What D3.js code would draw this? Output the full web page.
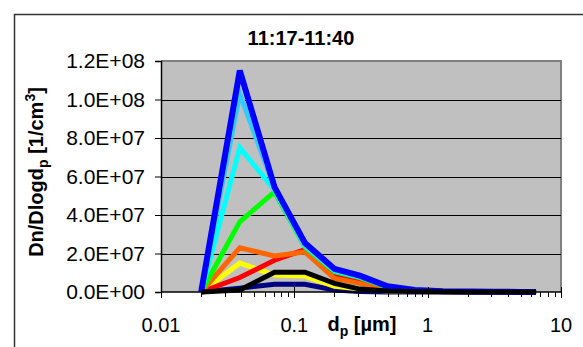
<!DOCTYPE html>
<html>
<head>
<meta charset="utf-8">
<script src="https://cdn.jsdelivr.net/npm/d3@7"></script>
<style>
	body { margin: 0; background: #fff; }
	svg { display: block; font-family: Arial, 'Liberation Sans', sans-serif; }
</style>
</head>
<body>
<svg id="viz"></svg>
<script>
// particle diameters [um]
var diameters = [ 0.02, 0.039, 0.071, 0.12, 0.2, 0.31, 0.5, 0.8, 1.3, 2, 3.2, 5, 6.5 ];

// Dn/Dlogdp in units of 1e6 / cm3, one array per scan
var navy   = [ 0, 2, 4, 4, 1, 0.2, 0, 0, 0, 0, 0, 0, 0 ];
var yellow = [ 0, 15, 8.8, 8.3, 3, 1.5, 0.5, 0.2, 0.1, 0, 0, 0, 0 ];
var red    = [ 0, 7.5, 16.5, 22, 8, 5.5, 1.5, 0.6, 0.2, 0.1, 0, 0, 0 ];
var orange = [ 0, 23, 18.7, 20.8, 7, 4.5, 1, 0.5, 0.2, 0.1, 0, 0, 0 ];
var green  = [ 0, 36.5, 52, 23.5, 10.5, 7.5, 2.5, 0.8, 0.3, 0.1, 0.1, 0, 0 ];
var cyan   = [ 0, 75, 53, 24, 11, 7.8, 2.7, 0.9, 0.3, 0.2, 0.1, 0, 0 ];
var sky    = [ 0, 103, 54, 24.5, 11.5, 8, 2.8, 0.9, 0.3, 0.2, 0.1, 0.05, 0 ];
var blue   = [ 0, 115, 54.5, 25.5, 12, 8.5, 3, 1, 0.4, 0.2, 0.1, 0.05, 0 ];
var black  = [ 0, 1, 10.3, 10.3, 4.5, 1.5, 0.5, 0.2, 0.1, 0, 0, 0, 0 ];

var yTicks = [ 0, 2e7, 4e7, 6e7, 8e7, 1e8, 1.2e8 ];
var yTickLabels = [ '0.0E+00', '2.0E+07', '4.0E+07', '6.0E+07', '8.0E+07', '1.0E+08', '1.2E+08' ];
var xTicks = [ 0.01, 0.1, 1, 10 ];
var xTickLabels = [ '0.01', '0.1', '1', '10' ];

var series = [
	{ values: navy, color: '#000080', width: 5 },
	{ values: yellow, color: '#FFFF00', width: 5 },
	{ values: red, color: '#FF0000', width: 5 },
	{ values: orange, color: '#FF6600', width: 5 },
	{ values: green, color: '#00FF00', width: 5 },
	{ values: cyan, color: '#00FFFF', width: 5 },
	{ values: sky, color: '#33CCFF', width: 5 },
	{ values: blue, color: '#0000FF', width: 6 },
	{ values: black, color: '#000000', width: 5 }
];

var W = 583, H = 347;
var plotLeft = 161, plotRight = 561, plotTop = 61, plotBottom = 292;

var svg = d3.select( '#viz' ).attr( 'width', W ).attr( 'height', H );

var x = d3.scaleLog().domain( [ 0.01, 10 ] ).range( [ plotLeft, plotRight ] );
var y = d3.scaleLinear().domain( [ 0, 1.2e8 ] ).range( [ plotBottom, plotTop ] );

// outer frame
svg.append( 'path' )
	.attr( 'd', 'M14.5,' + H + 'V14.5H' + W )
	.attr( 'fill', 'none' )
	.attr( 'stroke', '#333' )
	.attr( 'stroke-width', 1.5 );

// plot area
svg.append( 'rect' )
	.attr( 'x', plotLeft ).attr( 'y', plotTop )
	.attr( 'width', plotRight - plotLeft ).attr( 'height', plotBottom - plotTop )
	.attr( 'fill', '#C0C0C0' );
svg.append( 'path' )
	.attr( 'd', 'M' + plotLeft + ',' + plotTop + 'H' + plotRight + 'V' + plotBottom )
	.attr( 'fill', 'none' )
	.attr( 'stroke', '#808080' )
	.attr( 'stroke-width', 2 );

// gridlines
svg.append( 'g' ).selectAll( 'line' )
	.data( yTicks.slice( 1, -1 ) )
	.enter()
	.append( 'line' )
	.attr( 'x1', plotLeft ).attr( 'x2', plotRight )
	.attr( 'y1', function ( d ) { return Math.round( y( d ) ) + 0.5; } )
	.attr( 'y2', function ( d ) { return Math.round( y( d ) ) + 0.5; } )
	.attr( 'stroke', '#000' );

// series
var line = d3.line()
	.x( function ( d, i ) { return x( diameters[i] ); } )
	.y( function ( d ) { return y( d * 1e6 ); } );

svg.append( 'g' ).selectAll( 'path' )
	.data( series )
	.enter()
	.append( 'path' )
	.attr( 'd', function ( d ) { return line( d.values ); } )
	.attr( 'fill', 'none' )
	.attr( 'stroke', function ( d ) { return d.color; } )
	.attr( 'stroke-width', function ( d ) { return d.width; } )
	.attr( 'stroke-linejoin', 'miter' );

// y axis
var yAxis = d3.axisLeft( y )
	.tickValues( yTicks )
	.tickSize( 6 )
	.tickPadding( 10 )
	.tickFormat( function ( d, i ) { return yTickLabels[i]; } );
var gy = svg.append( 'g' ).attr( 'transform', 'translate(' + plotLeft + ',0)' ).call( yAxis );
gy.select( '.domain' ).attr( 'stroke', '#000' ).attr( 'stroke-width', 1.5 );
gy.selectAll( 'text' ).attr( 'font-size', 21 ).attr( 'fill', '#000' ).attr( 'font-family', 'Arial, Liberation Sans, sans-serif' );

// x axis: major and minor ticks
var minor = [];
[ 0.01, 0.1, 1 ].forEach( function ( dec ) {
	for ( var k = 2; k <= 9; k++ ) minor.push( dec * k );
} );
var gx = svg.append( 'g' ).attr( 'transform', 'translate(0,' + plotBottom + ')' );
gx.append( 'line' )
	.attr( 'x1', plotLeft ).attr( 'x2', plotRight )
	.attr( 'stroke', '#000' ).attr( 'stroke-width', 1.5 );
gx.selectAll( 'line.minor' )
	.data( minor )
	.enter()
	.append( 'line' )
	.classed( 'minor', true )
	.attr( 'x1', function ( d ) { return Math.round( x( d ) ) + 0.5; } )
	.attr( 'x2', function ( d ) { return Math.round( x( d ) ) + 0.5; } )
	.attr( 'y1', 0 ).attr( 'y2', 5 )
	.attr( 'stroke', '#000' );
gx.selectAll( 'line.major' )
	.data( xTicks )
	.enter()
	.append( 'line' )
	.classed( 'major', true )
	.attr( 'x1', function ( d ) { return Math.round( x( d ) ) + 0.5; } )
	.attr( 'x2', function ( d ) { return Math.round( x( d ) ) + 0.5; } )
	.attr( 'y1', -5 ).attr( 'y2', 6 )
	.attr( 'stroke', '#000' );
gx.selectAll( 'text' )
	.data( xTicks )
	.enter()
	.append( 'text' )
	.attr( 'x', function ( d ) { return x( d ); } )
	.attr( 'y', 40 )
	.attr( 'text-anchor', 'middle' )
	.attr( 'font-size', 20 )
	.text( function ( d, i ) { return xTickLabels[i]; } );

// title
svg.append( 'text' )
	.attr( 'x', 301 ).attr( 'y', 45 )
	.attr( 'text-anchor', 'middle' )
	.attr( 'font-size', 20 )
	.attr( 'font-weight', 'bold' )
	.text( '11:17-11:40' );

// x axis title
var xt = svg.append( 'text' )
	.attr( 'x', 362 ).attr( 'y', 331 )
	.attr( 'text-anchor', 'middle' )
	.attr( 'font-size', 20 )
	.attr( 'font-weight', 'bold' );
xt.append( 'tspan' ).text( 'd' );
xt.append( 'tspan' ).attr( 'font-size', 14 ).attr( 'dy', 5 ).text( 'p' );
xt.append( 'tspan' ).attr( 'dy', -5 ).text( ' [µm]' );

// y axis title
var yt = svg.append( 'text' )
	.attr( 'transform', 'translate(43,172) rotate(-90)' )
	.attr( 'text-anchor', 'middle' )
	.attr( 'font-size', 20 )
	.attr( 'font-weight', 'bold' );
yt.append( 'tspan' ).text( 'Dn/Dlogd' );
yt.append( 'tspan' ).attr( 'font-size', 14 ).attr( 'dy', 5 ).text( 'p' );
yt.append( 'tspan' ).attr( 'dy', -5 ).text( ' [1/cm' );
yt.append( 'tspan' ).attr( 'font-size', 14 ).attr( 'dy', -8 ).text( '3' );
yt.append( 'tspan' ).attr( 'dy', 8 ).text( ']' );
</script>
</body>
</html>
